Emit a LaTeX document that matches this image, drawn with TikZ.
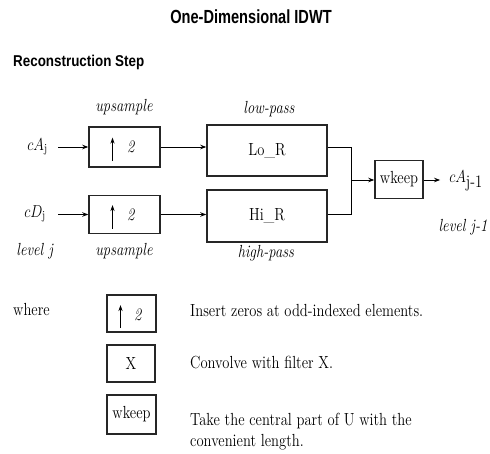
\documentclass[tikz,border=0pt]{standalone}
\usepackage{fontspec}
\usepackage{graphicx}
\newfontfamily\hdrfont{Liberation Sans}
\usetikzlibrary{arrows.meta,calc}
\newcommand{\vs}[1]{\scalebox{1}[1.2]{#1}}
\begin{document}
\begin{tikzpicture}[x=1pt,y=-1pt,
  blk/.style={draw=black!85,line width=1.5pt,inner sep=0pt,font=\fontsize{14.6}{17}\selectfont},
  lbl/.style={inner sep=0pt,font=\fontsize{14.6}{17}\selectfont},
  arr/.style={line width=1pt,-{Stealth[length=6pt,width=4.5pt]}},
  wire/.style={line width=1pt},
  uparr/.style={line width=1pt,-{Stealth[length=6pt,width=4pt]}}]
\useasboundingbox (0,0) rectangle (490,453);
% headings
\node[inner sep=0pt,font=\hdrfont\bfseries\fontsize{14.6}{17}\selectfont] (title) at (251,17) {\scalebox{1}[1.3]{One-Dimensional IDWT}};
\node[inner sep=0pt,anchor=west,font=\hdrfont\bfseries\fontsize{13.4}{16}\selectfont] (rstep) at (13,62.5) {\scalebox{1}[1.17]{Reconstruction Step}};
% boxes
\node[blk,minimum width=71pt,minimum height=40pt] (u1) at (124.5,147) {};
\node[blk,minimum width=71pt,minimum height=38pt] (u2) at (124.5,214.5) {};
\node[blk,minimum width=120pt,minimum height=51pt] (lo) at (267,150.5) {\vs{Lo\_R}};
\node[blk,minimum width=120pt,minimum height=52pt] (hi) at (267,216) {\vs{Hi\_R}};
\node[blk,minimum width=48pt,minimum height=38pt] (wk) at (399,179.5) {\vs{wkeep}};
% upsample symbols
\foreach \b in {u1,u2}{
  \draw[uparr] ($(\b.center)+(-12,14)$) -- ($(\b.center)+(-12,-9.5)$);
  \node[lbl] at ($(\b.center)+(6.5,0)$) {\vs{\textit{2}}};
}
% labels
\node[lbl] (cAj) at (37.5,147) {\vs{$cA_{\mathrm{j}}$}};
\node[lbl] (cDj) at (35,214) {\vs{$cD_{\mathrm{j}}$}};
\node[lbl] (cAo) at (466,181) {\vs{$cA_{\textrm{j-1}}$}};
\node[lbl] (ups1) at (124,107) {\vs{\textit{upsample}}};
\node[lbl] (ups2) at (124,251) {\vs{\textit{upsample}}};
\node[lbl] (lowp) at (269,109) {\vs{\textit{low-pass}}};
\node[lbl] (highp) at (266,253) {\vs{\textit{high-pass}}};
\node[lbl] (lvj) at (35,251) {\vs{\textit{level j}}};
\node[lbl] (lvj1) at (463,227) {\vs{\textit{level j-1}}};
% connectors
\coordinate (mtop) at (351,147);
\coordinate (mbot) at (351,214);
\coordinate (mmid) at (351,180);
\coordinate (sA) at (58,147);
\coordinate (sD) at (58,214.5);
\draw[arr] (sA) -- (u1.west);
\draw[arr] (sD) -- (u2.west);
\draw[arr] (u1.east) -- (u1.east -| lo.west);
\draw[arr] (u2.east) -- (u2.east -| hi.west);
\draw[wire] (lo.east |- mtop) -- (mtop) -- (mbot) -- (hi.east |- mbot);
\draw[arr] (mmid) -- (wk.west |- mmid);
\draw[arr] (wk.east |- mmid) -- ([xshift=-9pt]cAo.west |- mmid);
% legend
\node[lbl,anchor=west] (where) at (13,310) {\vs{where}};
\node[blk,minimum width=49pt,minimum height=37pt] (l1) at (131.5,313.5) {};
\draw[uparr] ($(l1.center)+(-11,14.5)$) -- ($(l1.center)+(-11,-8.5)$);
\node[lbl] at ($(l1.center)+(6.5,1)$) {\vs{\textit{2}}};
\node[blk,minimum width=48pt,minimum height=37pt] (l2) at (131,363.5) {\vs{X}};
\node[blk,minimum width=49pt,minimum height=39pt] (l3) at (131.5,414.5) {\vs{wkeep}};
\node[lbl,anchor=west] (t1) at (190,311) {\vs{Insert zeros at odd-indexed elements.}};
\node[lbl,anchor=west] (t2) at (190,363) {\vs{Convolve with filter X.}};
\node[lbl,anchor=west] (t3) at (190,431.5) {\vs{\fontsize{14.6}{17.5}\selectfont\begin{tabular}{@{}l@{}}Take the central part of U with the\\convenient length.\end{tabular}}};
\end{tikzpicture}
\end{document}
